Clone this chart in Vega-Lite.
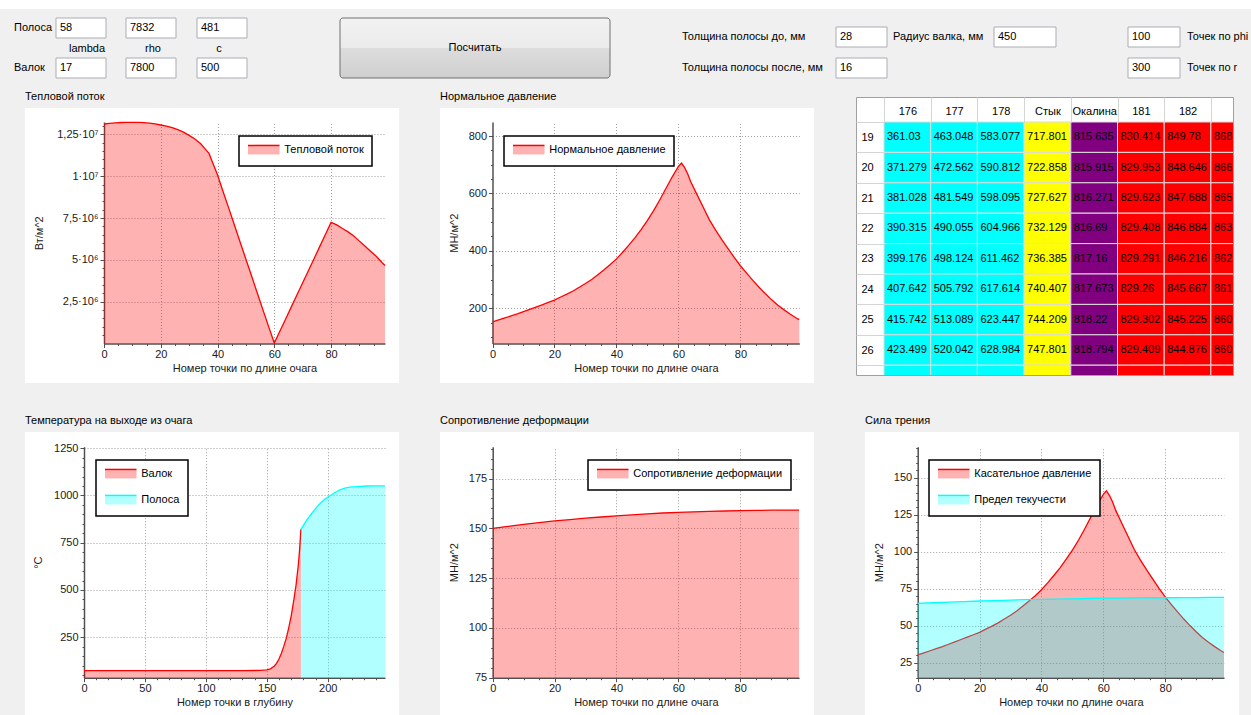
{
"$schema": "https://vega.github.io/schema/vega-lite/v6.json",
"background": "#f0f0f0",
"padding": 0,
"spacing": 0,
"bounds": "full",
"config": {
 "view": {"stroke": null},
 "font": "Liberation Sans",
 "concat": {"spacing": 0},
 "axis": {"labelFont": "Liberation Sans", "labelFontSize": 11, "labelColor": "#1a1a1a", "titleFont": "Liberation Sans", "titleFontSize": 11, "titleFontWeight": "normal", "titleColor": "#1a1a1a", "domainColor": "#505050", "domainWidth": 1.5, "tickColor": "#505050", "gridColor": "#a0a0a0", "gridDash": [1, 2], "labelFlush": false, "labelOverlap": false, "tickCount": 200},
 "legend": {"labelFont": "Liberation Sans"},
 "title": {"font": "Liberation Sans", "fontSize": 11, "fontWeight": "normal", "color": "black", "anchor": "start", "frame": "group", "offset": 6},
 "text": {"font": "Liberation Sans"}
},
"resolve": {"scale": {"color": "independent"}, "legend": {"color": "independent"}},
"datasets": {
 "form": [
  {"k": "strip", "x": 0, "x2": 1251, "y": 0, "y2": 9},
  {"k": "box", "x": 56, "x2": 106, "y": 18, "y2": 38, "t": "58"},
  {"k": "box", "x": 126, "x2": 176, "y": 18, "y2": 38, "t": "7832"},
  {"k": "box", "x": 197, "x2": 247, "y": 18, "y2": 38, "t": "481"},
  {"k": "box", "x": 56, "x2": 106, "y": 58, "y2": 78, "t": "17"},
  {"k": "box", "x": 126, "x2": 176, "y": 58, "y2": 78, "t": "7800"},
  {"k": "box", "x": 197, "x2": 247, "y": 58, "y2": 78, "t": "500"},
  {"k": "box", "x": 836, "x2": 887, "y": 27, "y2": 47, "t": "28"},
  {"k": "box", "x": 836, "x2": 887, "y": 58, "y2": 78, "t": "16"},
  {"k": "box", "x": 994, "x2": 1056, "y": 27, "y2": 47, "t": "450"},
  {"k": "box", "x": 1128, "x2": 1180, "y": 27, "y2": 47, "t": "100"},
  {"k": "box", "x": 1128, "x2": 1180, "y": 58, "y2": 78, "t": "300"},
  {"k": "button", "x": 340, "x2": 610, "y": 18, "y2": 78},
  {"k": "clabel", "x": 475, "y": 48, "t": "Посчитать"},
  {"k": "clabel", "x": 87, "y": 49, "t": "lambda"},
  {"k": "clabel", "x": 153, "y": 49, "t": "rho"},
  {"k": "clabel", "x": 219, "y": 49, "t": "c"},
  {"k": "label", "x": 14, "y": 28, "t": "Полоса"},
  {"k": "label", "x": 14, "y": 68, "t": "Валок"},
  {"k": "label", "x": 682, "y": 37, "t": "Толщина полосы до, мм"},
  {"k": "label", "x": 682, "y": 68, "t": "Толщина полосы после, мм"},
  {"k": "label", "x": 893, "y": 37, "t": "Радиус валка, мм"},
  {"k": "label", "x": 1187, "y": 37, "t": "Точек по phi"},
  {"k": "label", "x": 1187, "y": 68, "t": "Точек по r"}
 ],
 "heat": [
  {"x":0,"v":13120000,"s":"Тепловой поток"},{"x":2,"v":13160000,"s":"Тепловой поток"},{"x":4,"v":13190000,"s":"Тепловой поток"},{"x":6,"v":13210000,"s":"Тепловой поток"},{"x":8,"v":13220000,"s":"Тепловой поток"},{"x":10,"v":13222000,"s":"Тепловой поток"},{"x":12,"v":13215000,"s":"Тепловой поток"},{"x":14,"v":13200000,"s":"Тепловой поток"},{"x":16,"v":13170000,"s":"Тепловой поток"},{"x":18,"v":13130000,"s":"Тепловой поток"},{"x":20,"v":13060000,"s":"Тепловой поток"},{"x":22,"v":12990000,"s":"Тепловой поток"},{"x":24,"v":12900000,"s":"Тепловой поток"},{"x":26,"v":12780000,"s":"Тепловой поток"},{"x":28,"v":12630000,"s":"Тепловой поток"},{"x":30,"v":12440000,"s":"Тепловой поток"},{"x":32,"v":12220000,"s":"Тепловой поток"},{"x":34,"v":11950000,"s":"Тепловой поток"},{"x":36,"v":11560000,"s":"Тепловой поток"},{"x":37,"v":11360000,"s":"Тепловой поток"},{"x":38,"v":10930000,"s":"Тепловой поток"},{"x":39,"v":10500000,"s":"Тепловой поток"},{"x":40,"v":10070000,"s":"Тепловой поток"},{"x":42,"v":9060000,"s":"Тепловой поток"},{"x":44,"v":8060000,"s":"Тепловой поток"},{"x":46,"v":7050000,"s":"Тепловой поток"},{"x":48,"v":6040000,"s":"Тепловой поток"},{"x":50,"v":5040000,"s":"Тепловой поток"},{"x":52,"v":4030000,"s":"Тепловой поток"},{"x":54,"v":3020000,"s":"Тепловой поток"},{"x":56,"v":2010000,"s":"Тепловой поток"},{"x":58,"v":1010000,"s":"Тепловой поток"},{"x":60,"v":30000,"s":"Тепловой поток"},{"x":62,"v":750000,"s":"Тепловой поток"},{"x":64,"v":1470000,"s":"Тепловой поток"},{"x":66,"v":2190000,"s":"Тепловой поток"},{"x":68,"v":2910000,"s":"Тепловой поток"},{"x":70,"v":3630000,"s":"Тепловой поток"},{"x":72,"v":4350000,"s":"Тепловой поток"},{"x":74,"v":5070000,"s":"Тепловой поток"},{"x":76,"v":5790000,"s":"Тепловой поток"},{"x":78,"v":6510000,"s":"Тепловой поток"},{"x":80,"v":7240000,"s":"Тепловой поток"},{"x":82,"v":7090000,"s":"Тепловой поток"},{"x":84,"v":6870000,"s":"Тепловой поток"},{"x":86,"v":6670000,"s":"Тепловой поток"},{"x":88,"v":6430000,"s":"Тепловой поток"},{"x":90,"v":6120000,"s":"Тепловой поток"},{"x":92,"v":5810000,"s":"Тепловой поток"},{"x":94,"v":5500000,"s":"Тепловой поток"},{"x":96,"v":5200000,"s":"Тепловой поток"},{"x":98,"v":4830000,"s":"Тепловой поток"},{"x":99,"v":4660000,"s":"Тепловой поток"}
 ],
 "pn": [
  {"x":0,"v":152,"s":"Нормальное давление"},{"x":2,"v":159,"s":"Нормальное давление"},{"x":4,"v":166,"s":"Нормальное давление"},{"x":6,"v":173,"s":"Нормальное давление"},{"x":8,"v":180,"s":"Нормальное давление"},{"x":10,"v":188,"s":"Нормальное давление"},{"x":12,"v":196,"s":"Нормальное давление"},{"x":14,"v":204,"s":"Нормальное давление"},{"x":16,"v":212,"s":"Нормальное давление"},{"x":18,"v":220,"s":"Нормальное давление"},{"x":20,"v":228,"s":"Нормальное давление"},{"x":22,"v":239,"s":"Нормальное давление"},{"x":24,"v":249,"s":"Нормальное давление"},{"x":26,"v":260,"s":"Нормальное давление"},{"x":28,"v":273,"s":"Нормальное давление"},{"x":30,"v":286,"s":"Нормальное давление"},{"x":32,"v":300,"s":"Нормальное давление"},{"x":34,"v":317,"s":"Нормальное давление"},{"x":36,"v":334,"s":"Нормальное давление"},{"x":38,"v":352,"s":"Нормальное давление"},{"x":40,"v":372,"s":"Нормальное давление"},{"x":42,"v":395,"s":"Нормальное давление"},{"x":44,"v":420,"s":"Нормальное давление"},{"x":46,"v":446,"s":"Нормальное давление"},{"x":48,"v":475,"s":"Нормальное давление"},{"x":50,"v":506,"s":"Нормальное давление"},{"x":52,"v":540,"s":"Нормальное давление"},{"x":54,"v":578,"s":"Нормальное давление"},{"x":56,"v":618,"s":"Нормальное давление"},{"x":58,"v":658,"s":"Нормальное давление"},{"x":60,"v":694,"s":"Нормальное давление"},{"x":61,"v":706,"s":"Нормальное давление"},{"x":62,"v":690,"s":"Нормальное давление"},{"x":63,"v":668,"s":"Нормальное давление"},{"x":64,"v":640,"s":"Нормальное давление"},{"x":66,"v":596,"s":"Нормальное давление"},{"x":68,"v":552,"s":"Нормальное давление"},{"x":70,"v":508,"s":"Нормальное давление"},{"x":72,"v":472,"s":"Нормальное давление"},{"x":74,"v":439,"s":"Нормальное давление"},{"x":76,"v":408,"s":"Нормальное давление"},{"x":78,"v":377,"s":"Нормальное давление"},{"x":80,"v":348,"s":"Нормальное давление"},{"x":82,"v":322,"s":"Нормальное давление"},{"x":84,"v":297,"s":"Нормальное давление"},{"x":86,"v":273,"s":"Нормальное давление"},{"x":88,"v":251,"s":"Нормальное давление"},{"x":90,"v":230,"s":"Нормальное давление"},{"x":92,"v":211,"s":"Нормальное давление"},{"x":94,"v":195,"s":"Нормальное давление"},{"x":96,"v":180,"s":"Нормальное давление"},{"x":98,"v":166,"s":"Нормальное давление"},{"x":99,"v":160,"s":"Нормальное давление"}
 ],
 "temp": [
  {"x":0,"v":73,"s":"Валок"},{"x":20,"v":73,"s":"Валок"},{"x":40,"v":73,"s":"Валок"},{"x":60,"v":73,"s":"Валок"},{"x":80,"v":73,"s":"Валок"},{"x":100,"v":73,"s":"Валок"},{"x":120,"v":73,"s":"Валок"},{"x":130,"v":73.2,"s":"Валок"},{"x":140,"v":74,"s":"Валок"},{"x":145,"v":75,"s":"Валок"},{"x":150,"v":77,"s":"Валок"},{"x":153,"v":83,"s":"Валок"},{"x":156,"v":97,"s":"Валок"},{"x":158,"v":112,"s":"Валок"},{"x":160,"v":135,"s":"Валок"},{"x":162,"v":165,"s":"Валок"},{"x":164,"v":203,"s":"Валок"},{"x":166,"v":245,"s":"Валок"},{"x":168,"v":300,"s":"Валок"},{"x":170,"v":362,"s":"Валок"},{"x":172,"v":440,"s":"Валок"},{"x":174,"v":525,"s":"Валок"},{"x":176,"v":640,"s":"Валок"},{"x":177,"v":720,"s":"Валок"},{"x":178,"v":821,"s":"Валок"},
  {"x":178,"v":821,"s":"Полоса"},{"x":180,"v":842,"s":"Полоса"},{"x":183,"v":872,"s":"Полоса"},{"x":186,"v":898,"s":"Полоса"},{"x":189,"v":922,"s":"Полоса"},{"x":192,"v":946,"s":"Полоса"},{"x":195,"v":965,"s":"Полоса"},{"x":198,"v":982,"s":"Полоса"},{"x":200,"v":991,"s":"Полоса"},{"x":203,"v":1004,"s":"Полоса"},{"x":206,"v":1016,"s":"Полоса"},{"x":210,"v":1030,"s":"Полоса"},{"x":214,"v":1039,"s":"Полоса"},{"x":218,"v":1044,"s":"Полоса"},{"x":224,"v":1047,"s":"Полоса"},{"x":232,"v":1050,"s":"Полоса"},{"x":240,"v":1051,"s":"Полоса"},{"x":247,"v":1051,"s":"Полоса"}
 ],
 "sdef": [
  {"x":0,"v":150.0,"s":"Сопротивление деформации"},{"x":5,"v":151.0,"s":"Сопротивление деформации"},{"x":10,"v":152.0,"s":"Сопротивление деформации"},{"x":15,"v":152.9,"s":"Сопротивление деформации"},{"x":20,"v":153.7,"s":"Сопротивление деформации"},{"x":25,"v":154.4,"s":"Сопротивление деформации"},{"x":30,"v":155.1,"s":"Сопротивление деформации"},{"x":35,"v":155.7,"s":"Сопротивление деформации"},{"x":40,"v":156.3,"s":"Сопротивление деформации"},{"x":45,"v":156.8,"s":"Сопротивление деформации"},{"x":50,"v":157.3,"s":"Сопротивление деформации"},{"x":55,"v":157.7,"s":"Сопротивление деформации"},{"x":60,"v":158.0,"s":"Сопротивление деформации"},{"x":65,"v":158.3,"s":"Сопротивление деформации"},{"x":70,"v":158.5,"s":"Сопротивление деформации"},{"x":75,"v":158.7,"s":"Сопротивление деформации"},{"x":80,"v":158.9,"s":"Сопротивление деформации"},{"x":85,"v":159.0,"s":"Сопротивление деформации"},{"x":90,"v":159.1,"s":"Сопротивление деформации"},{"x":95,"v":159.2,"s":"Сопротивление деформации"},{"x":99,"v":159.2,"s":"Сопротивление деформации"}
 ],
 "fric": [
  {"x":0,"v":30.4,"s":"Касательное давление"},{"x":2,"v":31.8,"s":"Касательное давление"},{"x":4,"v":33.2,"s":"Касательное давление"},{"x":6,"v":34.6,"s":"Касательное давление"},{"x":8,"v":36,"s":"Касательное давление"},{"x":10,"v":37.6,"s":"Касательное давление"},{"x":12,"v":39.2,"s":"Касательное давление"},{"x":14,"v":40.8,"s":"Касательное давление"},{"x":16,"v":42.4,"s":"Касательное давление"},{"x":18,"v":44,"s":"Касательное давление"},{"x":20,"v":45.6,"s":"Касательное давление"},{"x":22,"v":47.8,"s":"Касательное давление"},{"x":24,"v":49.8,"s":"Касательное давление"},{"x":26,"v":52,"s":"Касательное давление"},{"x":28,"v":54.6,"s":"Касательное давление"},{"x":30,"v":57.2,"s":"Касательное давление"},{"x":32,"v":60,"s":"Касательное давление"},{"x":34,"v":63.4,"s":"Касательное давление"},{"x":36,"v":66.8,"s":"Касательное давление"},{"x":38,"v":70.4,"s":"Касательное давление"},{"x":40,"v":74.4,"s":"Касательное давление"},{"x":42,"v":79,"s":"Касательное давление"},{"x":44,"v":84,"s":"Касательное давление"},{"x":46,"v":89.2,"s":"Касательное давление"},{"x":48,"v":95,"s":"Касательное давление"},{"x":50,"v":101.2,"s":"Касательное давление"},{"x":52,"v":108,"s":"Касательное давление"},{"x":54,"v":115.6,"s":"Касательное давление"},{"x":56,"v":123.6,"s":"Касательное давление"},{"x":58,"v":131.6,"s":"Касательное давление"},{"x":60,"v":138.8,"s":"Касательное давление"},{"x":61,"v":141.2,"s":"Касательное давление"},{"x":62,"v":138,"s":"Касательное давление"},{"x":63,"v":133.6,"s":"Касательное давление"},{"x":64,"v":128,"s":"Касательное давление"},{"x":66,"v":119.2,"s":"Касательное давление"},{"x":68,"v":110.4,"s":"Касательное давление"},{"x":70,"v":101.6,"s":"Касательное давление"},{"x":72,"v":94.4,"s":"Касательное давление"},{"x":74,"v":87.8,"s":"Касательное давление"},{"x":76,"v":81.6,"s":"Касательное давление"},{"x":78,"v":75.4,"s":"Касательное давление"},{"x":80,"v":69.6,"s":"Касательное давление"},{"x":82,"v":64.4,"s":"Касательное давление"},{"x":84,"v":59.4,"s":"Касательное давление"},{"x":86,"v":54.6,"s":"Касательное давление"},{"x":88,"v":50.2,"s":"Касательное давление"},{"x":90,"v":46,"s":"Касательное давление"},{"x":92,"v":42.2,"s":"Касательное давление"},{"x":94,"v":39,"s":"Касательное давление"},{"x":96,"v":36,"s":"Касательное давление"},{"x":98,"v":33.2,"s":"Касательное давление"},{"x":99,"v":32,"s":"Касательное давление"},
  {"x":0,"v":65.2,"s":"Предел текучести"},{"x":5,"v":65.6,"s":"Предел текучести"},{"x":10,"v":66.0,"s":"Предел текучести"},{"x":15,"v":66.4,"s":"Предел текучести"},{"x":20,"v":66.8,"s":"Предел текучести"},{"x":25,"v":67.1,"s":"Предел текучести"},{"x":30,"v":67.4,"s":"Предел текучести"},{"x":35,"v":67.7,"s":"Предел текучести"},{"x":40,"v":67.9,"s":"Предел текучести"},{"x":45,"v":68.1,"s":"Предел текучести"},{"x":50,"v":68.3,"s":"Предел текучести"},{"x":55,"v":68.5,"s":"Предел текучести"},{"x":60,"v":68.7,"s":"Предел текучести"},{"x":65,"v":68.8,"s":"Предел текучести"},{"x":70,"v":68.9,"s":"Предел текучести"},{"x":75,"v":69.0,"s":"Предел текучести"},{"x":80,"v":69.0,"s":"Предел текучести"},{"x":85,"v":69.1,"s":"Предел текучести"},{"x":90,"v":69.1,"s":"Предел текучести"},{"x":95,"v":69.2,"s":"Предел текучести"},{"x":99,"v":69.2,"s":"Предел текучести"}
 ],
 "table": [
  {"r":19,"c":"176","z":"Полоса","v":361.03},{"r":19,"c":"177","z":"Полоса","v":463.048},{"r":19,"c":"178","z":"Полоса","v":583.077},{"r":19,"c":"Стык","z":"Стык","v":717.801},{"r":19,"c":"Окалина","z":"Окалина","v":815.635},{"r":19,"c":"181","z":"Валок","v":830.414},{"r":19,"c":"182","z":"Валок","v":849.78},{"r":19,"c":"183","z":"Валок","v":868.152},
  {"r":20,"c":"176","z":"Полоса","v":371.279},{"r":20,"c":"177","z":"Полоса","v":472.562},{"r":20,"c":"178","z":"Полоса","v":590.812},{"r":20,"c":"Стык","z":"Стык","v":722.858},{"r":20,"c":"Окалина","z":"Окалина","v":815.915},{"r":20,"c":"181","z":"Валок","v":829.953},{"r":20,"c":"182","z":"Валок","v":848.646},{"r":20,"c":"183","z":"Валок","v":866.531},
  {"r":21,"c":"176","z":"Полоса","v":381.028},{"r":21,"c":"177","z":"Полоса","v":481.549},{"r":21,"c":"178","z":"Полоса","v":598.095},{"r":21,"c":"Стык","z":"Стык","v":727.627},{"r":21,"c":"Окалина","z":"Окалина","v":816.271},{"r":21,"c":"181","z":"Валок","v":829.623},{"r":21,"c":"182","z":"Валок","v":847.688},{"r":21,"c":"183","z":"Валок","v":865.058},
  {"r":22,"c":"176","z":"Полоса","v":390.315},{"r":22,"c":"177","z":"Полоса","v":490.055},{"r":22,"c":"178","z":"Полоса","v":604.966},{"r":22,"c":"Стык","z":"Стык","v":732.129},{"r":22,"c":"Окалина","z":"Окалина","v":816.69},{"r":22,"c":"181","z":"Валок","v":829.408},{"r":22,"c":"182","z":"Валок","v":846.884},{"r":22,"c":"183","z":"Валок","v":863.741},
  {"r":23,"c":"176","z":"Полоса","v":399.176},{"r":23,"c":"177","z":"Полоса","v":498.124},{"r":23,"c":"178","z":"Полоса","v":611.462},{"r":23,"c":"Стык","z":"Стык","v":736.385},{"r":23,"c":"Окалина","z":"Окалина","v":817.16},{"r":23,"c":"181","z":"Валок","v":829.291},{"r":23,"c":"182","z":"Валок","v":846.216},{"r":23,"c":"183","z":"Валок","v":862.567},
  {"r":24,"c":"176","z":"Полоса","v":407.642},{"r":24,"c":"177","z":"Полоса","v":505.792},{"r":24,"c":"178","z":"Полоса","v":617.614},{"r":24,"c":"Стык","z":"Стык","v":740.407},{"r":24,"c":"Окалина","z":"Окалина","v":817.673},{"r":24,"c":"181","z":"Валок","v":829.26},{"r":24,"c":"182","z":"Валок","v":845.667},{"r":24,"c":"183","z":"Валок","v":861.523},
  {"r":25,"c":"176","z":"Полоса","v":415.742},{"r":25,"c":"177","z":"Полоса","v":513.089},{"r":25,"c":"178","z":"Полоса","v":623.447},{"r":25,"c":"Стык","z":"Стык","v":744.209},{"r":25,"c":"Окалина","z":"Окалина","v":818.22},{"r":25,"c":"181","z":"Валок","v":829.302},{"r":25,"c":"182","z":"Валок","v":845.225},{"r":25,"c":"183","z":"Валок","v":860.597},
  {"r":26,"c":"176","z":"Полоса","v":423.499},{"r":26,"c":"177","z":"Полоса","v":520.042},{"r":26,"c":"178","z":"Полоса","v":628.984},{"r":26,"c":"Стык","z":"Стык","v":747.801},{"r":26,"c":"Окалина","z":"Окалина","v":818.794},{"r":26,"c":"181","z":"Валок","v":829.409},{"r":26,"c":"182","z":"Валок","v":844.876},{"r":26,"c":"183","z":"Валок","v":860.08},
  {"r":27,"c":"176","z":"Полоса","v":null},{"r":27,"c":"177","z":"Полоса","v":null},{"r":27,"c":"178","z":"Полоса","v":null},{"r":27,"c":"Стык","z":"Стык","v":null},{"r":27,"c":"Окалина","z":"Окалина","v":null},{"r":27,"c":"181","z":"Валок","v":null},{"r":27,"c":"182","z":"Валок","v":null},{"r":27,"c":"183","z":"Валок","v":null}
 ]
},
"vconcat": [
 {
  "width": 1251, "height": 87,
  "data": {"name": "form"},
  "layer": [
   {"transform": [{"filter": "datum.k == 'strip'"}], "mark": {"type": "rect", "fill": "white"},
    "encoding": {"x": {"field": "x", "type": "quantitative", "scale": {"domain": [0, 1251], "range": [0, 1251], "nice": false, "zero": false}, "axis": null}, "x2": {"field": "x2"},
                 "y": {"field": "y", "type": "quantitative", "scale": {"domain": [0, 97], "range": [0, 97], "nice": false, "zero": false}, "axis": null}, "y2": {"field": "y2"}}},
   {"transform": [{"filter": "datum.k == 'box'"}], "mark": {"type": "rect", "fill": "white", "stroke": "#abadb3", "strokeWidth": 1},
    "encoding": {"x": {"field": "x", "type": "quantitative"}, "x2": {"field": "x2"}, "y": {"field": "y", "type": "quantitative"}, "y2": {"field": "y2"}}},
   {"transform": [{"filter": "datum.k == 'button'"}], "mark": {"type": "rect", "stroke": "#707070", "strokeWidth": 1, "cornerRadius": 3, "fill": {"gradient": "linear", "x1": 0, "y1": 0, "x2": 0, "y2": 1, "stops": [{"offset": 0, "color": "#f2f2f2"}, {"offset": 0.5, "color": "#ebebeb"}, {"offset": 0.5, "color": "#dddddd"}, {"offset": 1, "color": "#cfcfcf"}]}},
    "encoding": {"x": {"field": "x", "type": "quantitative"}, "x2": {"field": "x2"}, "y": {"field": "y", "type": "quantitative"}, "y2": {"field": "y2"}}},
   {"transform": [{"filter": "datum.k == 'box'"}], "mark": {"type": "text", "align": "left", "baseline": "top", "dx": 4, "dy": 4, "fontSize": 11, "color": "black"},
    "encoding": {"x": {"field": "x", "type": "quantitative"}, "y": {"field": "y", "type": "quantitative"}, "text": {"field": "t"}}},
   {"transform": [{"filter": "datum.k == 'label'"}], "mark": {"type": "text", "align": "left", "baseline": "middle", "fontSize": 11, "color": "black"},
    "encoding": {"x": {"field": "x", "type": "quantitative"}, "y": {"field": "y", "type": "quantitative"}, "text": {"field": "t"}}},
   {"transform": [{"filter": "datum.k == 'clabel'"}], "mark": {"type": "text", "align": "center", "baseline": "middle", "fontSize": 11, "color": "black"},
    "encoding": {"x": {"field": "x", "type": "quantitative"}, "y": {"field": "y", "type": "quantitative"}, "text": {"field": "t"}}}
  ]
 },
 {
  "spacing": 0, "bounds": "full",
  "resolve": {"scale": {"color": "independent"}, "legend": {"color": "independent"}},
  "hconcat": [
   {"width": 25, "height": 1, "data": {"values": []}, "mark": "point"},
   {"spacing": 0, "bounds": "flush", "resolve": {"scale": {"color": "independent"}, "legend": {"color": "independent"}},
    "vconcat": [
     {"width": 1, "height": 21, "data": {"values": []}, "mark": "point"},
     {
      "width": 374, "height": 275,
      "view": {"fill": "white"},
      "title": {"text": "Тепловой поток"},
      "data": {"name": "heat"},
      "layer": [
       {"mark": {"type": "area", "opacity": 0.3},
        "encoding": {
         "x": {"field": "x", "type": "quantitative", "scale": {"domain": [0, 99], "range": [79, 360], "nice": false, "zero": false},
               "axis": {"orient": "bottom", "offset": -39.5, "tickCount": 200, "format": "d", "values": [0,5,10,15,20,25,30,35,40,45,50,55,60,65,70,75,80,85,90,95], "labelExpr": "datum.value % 20 == 0 ? datum.label : ''", "tickSize": {"condition": {"test": "datum.value % 20 == 0", "value": 4}, "value": 2}, "labelPadding": 1, "labelOverlap": false, "grid": false, "title": "Номер точки  по длине очага", "titlePadding": 3}},
         "y": {"field": "v", "type": "quantitative", "stack": null, "scale": {"domain": [0, 13240000], "range": [235.5, 14], "nice": false, "zero": false},
               "axis": {"orient": "left", "offset": -79, "tickCount": 200, "values": [500000,1000000,1500000,2000000,2500000,3000000,3500000,4000000,4500000,5000000,5500000,6000000,6500000,7000000,7500000,8000000,8500000,9000000,9500000,10000000,10500000,11000000,11500000,12000000,12500000,13000000], "labelExpr": "datum.value == 12500000 ? '1,25·10⁷' : datum.value == 10000000 ? '1·10⁷' : datum.value == 7500000 ? '7,5·10⁶' : datum.value == 5000000 ? '5·10⁶' : datum.value == 2500000 ? '2,5·10⁶' : ''", "tickSize": {"condition": {"test": "datum.value % 2500000 == 0", "value": 4}, "value": 2}, "labelPadding": 2, "labelOverlap": false, "grid": true, "gridOpacity": {"condition": {"test": "datum.value % 2500000 == 0", "value": 1}, "value": 0}, "title": "Вт/м^2", "titlePadding": 12}},
         "y2": {"datum": 0},
         "color": {"field": "s", "type": "nominal", "scale": {"domain": ["Тепловой поток"], "range": ["#ff0000"]},
                   "legend": {"orient": "none", "legendX": 214, "legendY": 28, "title": null, "fillColor": "white", "strokeColor": "black", "padding": 8, "symbolType": "M-3.5,-0.9H3.5V1.1H-3.5Z", "symbolSize": 81, "symbolOffset": 11.25, "labelOffset": 15, "rowPadding": 10, "labelFontSize": 11, "labelColor": "black", "labelLimit": 300, "symbolStrokeColor": "#ff0000", "symbolStrokeWidth": 1.5, "symbolDash": [31.5, 80], "symbolOpacity": 1,
                              "encode": {"legend": {"update": {"strokeWidth": {"value": 1.5}}}, "symbols": {"update": {"fill": {"value": "#ff0000"}, "fillOpacity": {"value": 0.3}, "stroke": {"value": "#ff0000"}, "strokeOpacity": {"value": 1}, "opacity": {"value": 1}}}}}}
        }},
       {"mark": {"type": "line", "strokeWidth": 1.3},
        "encoding": {
         "x": {"field": "x", "type": "quantitative", "axis": {"orient": "top", "offset": -14, "values": [20,40,60,80], "grid": true, "domain": false, "ticks": false, "labels": false, "title": null}},
         "y": {"field": "v", "type": "quantitative"},
         "color": {"field": "s", "type": "nominal"}
        }}
      ],
      "resolve": {"axis": {"x": "independent"}}
     }
    ]},
   {"width": 41, "height": 1, "data": {"values": []}, "mark": "point"},
   {"spacing": 0, "bounds": "flush", "resolve": {"scale": {"color": "independent"}, "legend": {"color": "independent"}},
    "vconcat": [
     {"width": 1, "height": 21, "data": {"values": []}, "mark": "point"},
     {
      "width": 374, "height": 275,
      "view": {"fill": "white"},
      "title": {"text": "Нормальное давление"},
      "data": {"name": "pn"},
      "layer": [
       {"mark": {"type": "area", "opacity": 0.3},
        "encoding": {
         "x": {"field": "x", "type": "quantitative", "scale": {"domain": [0, 99], "range": [52.5, 359.3], "nice": false, "zero": false},
               "axis": {"orient": "bottom", "offset": -39.5, "tickCount": 200, "format": "d", "values": [0,5,10,15,20,25,30,35,40,45,50,55,60,65,70,75,80,85,90,95], "labelExpr": "datum.value % 20 == 0 ? datum.label : ''", "tickSize": {"condition": {"test": "datum.value % 20 == 0", "value": 4}, "value": 2}, "labelPadding": 1, "labelOverlap": false, "grid": false, "title": "Номер точки  по длине очага", "titlePadding": 3}},
         "y": {"field": "v", "type": "quantitative", "stack": null, "scale": {"domain": [77, 849], "range": [235.5, 14], "nice": false, "zero": false},
               "axis": {"orient": "left", "offset": -52.5, "tickCount": 200, "format": "d", "values": [100,150,200,250,300,350,400,450,500,550,600,650,700,750,800], "labelExpr": "datum.value % 200 == 0 ? datum.label : ''", "tickSize": {"condition": {"test": "datum.value % 200 == 0", "value": 4}, "value": 2}, "labelPadding": 2, "labelOverlap": false, "grid": true, "gridOpacity": {"condition": {"test": "datum.value % 200 == 0", "value": 1}, "value": 0}, "title": "МН/м^2", "titlePadding": 9}},
         "y2": {"datum": 77},
         "color": {"field": "s", "type": "nominal", "scale": {"domain": ["Нормальное давление"], "range": ["#ff0000"]},
                   "legend": {"orient": "none", "legendX": 64, "legendY": 28, "title": null, "fillColor": "white", "strokeColor": "black", "padding": 8, "symbolType": "M-3.5,-0.9H3.5V1.1H-3.5Z", "symbolSize": 81, "symbolOffset": 11.25, "labelOffset": 15, "rowPadding": 10, "labelFontSize": 11, "labelColor": "black", "labelLimit": 300, "symbolStrokeColor": "#ff0000", "symbolStrokeWidth": 1.5, "symbolDash": [31.5, 80], "symbolOpacity": 1,
                              "encode": {"legend": {"update": {"strokeWidth": {"value": 1.5}}}, "symbols": {"update": {"fill": {"value": "#ff0000"}, "fillOpacity": {"value": 0.3}, "stroke": {"value": "#ff0000"}, "strokeOpacity": {"value": 1}, "opacity": {"value": 1}}}}}}
        }},
       {"mark": {"type": "line", "strokeWidth": 1.3},
        "encoding": {
         "x": {"field": "x", "type": "quantitative", "axis": {"orient": "top", "offset": -14, "values": [20,40,60,80], "grid": true, "domain": false, "ticks": false, "labels": false, "title": null}},
         "y": {"field": "v", "type": "quantitative"},
         "color": {"field": "s", "type": "nominal"}
        }}
      ],
      "resolve": {"axis": {"x": "independent"}}
     }
    ]},
   {"width": 41, "height": 1, "data": {"values": []}, "mark": "point"},
   {"spacing": 0, "bounds": "flush", "resolve": {"scale": {"color": "independent"}, "legend": {"color": "independent"}},
    "vconcat": [
     {"width": 1, "height": 10, "data": {"values": []}, "mark": "point"},
     {
      "width": 377, "height": 278,
      "view": {"fill": "white", "stroke": "#a0a0a0"},
      "data": {"name": "table"},
      "layer": [
       {"mark": {"type": "rect", "stroke": "#dcdcdc", "strokeWidth": 1, "clip": true},
        "encoding": {
         "x": {"field": "c", "type": "ordinal", "sort": null, "scale": {"domain": ["176","177","178","Стык","Окалина","181","182","183"], "range": [28, 401.6], "paddingInner": 0, "paddingOuter": 0},
               "axis": {"orient": "top", "offset": -25, "values": ["176","177","178","Стык","Окалина","181","182"], "domain": false, "tickBand": "extent", "tickSize": 25, "tickColor": "#d5d5d5", "tickWidth": 1, "labelPadding": -19, "labelAngle": 0, "labelColor": "black", "labelFontSize": 11, "title": null, "grid": false}},
         "y": {"field": "r", "type": "ordinal", "sort": null, "scale": {"domain": [19,20,21,22,23,24,25,26,27], "range": [25, 298.6], "paddingInner": 0, "paddingOuter": 0},
               "axis": {"orient": "left", "offset": -28, "values": [19,20,21,22,23,24,25,26], "domain": false, "tickBand": "extent", "tickSize": 28, "tickColor": "#d5d5d5", "tickWidth": 1, "labelAlign": "left", "labelBaseline": "middle", "labelPadding": -5, "labelColor": "black", "labelFontSize": 11, "title": null, "grid": false}},
         "color": {"field": "z", "type": "nominal", "scale": {"domain": ["Полоса","Стык","Окалина","Валок"], "range": ["#00ffff","#ffff00","#800080","#ff0000"]}, "legend": null}
        }},
       {"transform": [{"filter": "datum.v != null"}],
        "mark": {"type": "text", "align": "left", "baseline": "middle", "dx": 3, "fontSize": 11, "color": "black", "clip": true},
        "encoding": {
         "x": {"field": "c", "type": "ordinal", "bandPosition": 0},
         "y": {"field": "r", "type": "ordinal"},
         "text": {"field": "v", "type": "nominal"}
        }}
      ]
     }
    ]}
  ]
 },
 {"width": 1, "height": 32, "data": {"values": []}, "mark": "point"},
 {
  "spacing": 0, "bounds": "flush",
  "resolve": {"scale": {"color": "independent"}, "legend": {"color": "independent"}},
  "hconcat": [
   {"width": 25, "height": 1, "data": {"values": []}, "mark": "point"},
   {
    "width": 374, "height": 290,
    "view": {"fill": "white"},
    "title": {"text": "Температура на выходе из очага"},
    "data": {"name": "temp"},
    "layer": [
     {"transform": [{"filter": "datum.s == 'Валок'"}], "mark": {"type": "area", "opacity": 0.3},
      "encoding": {
       "x": {"field": "x", "type": "quantitative", "scale": {"domain": [0, 247], "range": [59, 360], "nice": false, "zero": false},
             "axis": {"orient": "bottom", "offset": -44.3, "tickCount": 200, "format": "d", "values": [0,10,20,30,40,50,60,70,80,90,100,110,120,130,140,150,160,170,180,190,200,210,220,230,240], "labelExpr": "datum.value % 50 == 0 ? datum.label : ''", "tickSize": {"condition": {"test": "datum.value % 50 == 0", "value": 4}, "value": 2}, "labelPadding": 1, "labelOverlap": false, "grid": false, "title": "Номер точки в глубину", "titlePadding": 3}},
       "y": {"field": "v", "type": "quantitative", "stack": null, "scale": {"domain": [36, 1258], "range": [245.7, 14.7], "nice": false, "zero": false},
             "axis": {"orient": "left", "offset": -59, "tickCount": 200, "format": "d", "values": [50,100,150,200,250,300,350,400,450,500,550,600,650,700,750,800,850,900,950,1000,1050,1100,1150,1200,1250], "labelExpr": "datum.value % 250 == 0 ? datum.label : ''", "tickSize": {"condition": {"test": "datum.value % 250 == 0", "value": 4}, "value": 2}, "labelPadding": 2, "labelOverlap": false, "grid": true, "gridOpacity": {"condition": {"test": "datum.value % 250 == 0", "value": 1}, "value": 0}, "title": "°C", "titlePadding": 10}},
       "y2": {"datum": 36},
       "color": {"field": "s", "type": "nominal", "scale": {"domain": ["Валок", "Полоса"], "range": ["#ff0000", "#00ffff"]},
                 "legend": {"orient": "none", "legendX": 71, "legendY": 28, "title": null, "fillColor": "white", "strokeColor": "black", "padding": 8, "symbolType": "M-3.5,-0.9H3.5V1.1H-3.5Z", "symbolSize": 81, "symbolOffset": 11.25, "labelOffset": 15, "rowPadding": 10, "labelFontSize": 11, "labelColor": "black", "labelLimit": 300, "symbolStrokeWidth": 1.5, "symbolDash": [31.5, 80], "symbolOpacity": 1,
                            "encode": {"legend": {"update": {"strokeWidth": {"value": 1.5}}}, "symbols": {"update": {"fill": {"signal": "datum.value == 'Полоса' ? '#00ffff' : '#ff0000'"}, "fillOpacity": {"value": 0.3}, "stroke": {"signal": "datum.value == 'Полоса' ? '#00ffff' : '#ff0000'"}, "strokeOpacity": {"value": 1}, "opacity": {"value": 1}}}}}}
      }},
     {"transform": [{"filter": "datum.s == 'Валок'"}], "mark": {"type": "line", "strokeWidth": 1.3},
      "encoding": {
       "x": {"field": "x", "type": "quantitative", "axis": {"orient": "top", "offset": -14.7, "values": [50,100,150,200], "grid": true, "domain": false, "ticks": false, "labels": false, "title": null}},
       "y": {"field": "v", "type": "quantitative"},
       "color": {"field": "s", "type": "nominal"}
      }},
     {"transform": [{"filter": "datum.s == 'Полоса'"}], "mark": {"type": "area", "opacity": 0.3},
      "encoding": {
       "x": {"field": "x", "type": "quantitative", "axis": null},
       "y": {"field": "v", "type": "quantitative", "stack": null},
       "y2": {"datum": 36},
       "color": {"field": "s", "type": "nominal"}
      }},
     {"transform": [{"filter": "datum.s == 'Полоса'"}], "mark": {"type": "line", "strokeWidth": 1.3},
      "encoding": {
       "x": {"field": "x", "type": "quantitative", "axis": null},
       "y": {"field": "v", "type": "quantitative"},
       "color": {"field": "s", "type": "nominal"}
      }}
    ],
    "resolve": {"axis": {"x": "independent"}}
   },
   {"width": 41, "height": 1, "data": {"values": []}, "mark": "point"},
   {
    "width": 374, "height": 290,
    "view": {"fill": "white"},
    "title": {"text": "Сопротивление деформации"},
    "data": {"name": "sdef"},
    "layer": [
     {"mark": {"type": "area", "opacity": 0.3},
      "encoding": {
       "x": {"field": "x", "type": "quantitative", "scale": {"domain": [0, 99], "range": [52.7, 359], "nice": false, "zero": false},
             "axis": {"orient": "bottom", "offset": -44.3, "tickCount": 200, "format": "d", "values": [0,5,10,15,20,25,30,35,40,45,50,55,60,65,70,75,80,85,90,95], "labelExpr": "datum.value % 20 == 0 ? datum.label : ''", "tickSize": {"condition": {"test": "datum.value % 20 == 0", "value": 4}, "value": 2}, "labelPadding": 1, "labelOverlap": false, "grid": false, "title": "Номер точки  по длине очага", "titlePadding": 3}},
       "y": {"field": "v", "type": "quantitative", "stack": null, "scale": {"domain": [75, 191], "range": [245.7, 14.7], "nice": false, "zero": false},
             "axis": {"orient": "left", "offset": -52.7, "tickCount": 200, "format": "d", "values": [75,80,85,90,95,100,105,110,115,120,125,130,135,140,145,150,155,160,165,170,175,180,185,190], "labelExpr": "datum.value % 25 == 0 ? datum.label : ''", "tickSize": {"condition": {"test": "datum.value % 25 == 0", "value": 4}, "value": 2}, "labelPadding": 2, "labelOverlap": false, "grid": true, "gridOpacity": {"condition": {"test": "datum.value % 25 == 0", "value": 1}, "value": 0}, "title": "МН/м^2", "titlePadding": 9}},
       "y2": {"datum": 75},
       "color": {"field": "s", "type": "nominal", "scale": {"domain": ["Сопротивление деформации"], "range": ["#ff0000"]},
                 "legend": {"orient": "none", "legendX": 148, "legendY": 28, "title": null, "fillColor": "white", "strokeColor": "black", "padding": 8, "symbolType": "M-3.5,-0.9H3.5V1.1H-3.5Z", "symbolSize": 81, "symbolOffset": 11.25, "labelOffset": 15, "rowPadding": 10, "labelFontSize": 11, "labelColor": "black", "labelLimit": 300, "symbolStrokeColor": "#ff0000", "symbolStrokeWidth": 1.5, "symbolDash": [31.5, 80], "symbolOpacity": 1,
                            "encode": {"legend": {"update": {"strokeWidth": {"value": 1.5}}}, "symbols": {"update": {"fill": {"value": "#ff0000"}, "fillOpacity": {"value": 0.3}, "stroke": {"value": "#ff0000"}, "strokeOpacity": {"value": 1}, "opacity": {"value": 1}}}}}}
      }},
     {"mark": {"type": "line", "strokeWidth": 1.3},
      "encoding": {
       "x": {"field": "x", "type": "quantitative", "axis": {"orient": "top", "offset": -14.7, "values": [20,40,60,80], "grid": true, "domain": false, "ticks": false, "labels": false, "title": null}},
       "y": {"field": "v", "type": "quantitative"},
       "color": {"field": "s", "type": "nominal"}
      }}
    ],
    "resolve": {"axis": {"x": "independent"}}
   },
   {"width": 51, "height": 1, "data": {"values": []}, "mark": "point"},
   {
    "width": 374, "height": 290,
    "view": {"fill": "white"},
    "title": {"text": "Сила трения"},
    "data": {"name": "fric"},
    "layer": [
     {"transform": [{"filter": "datum.s == 'Касательное давление'"}], "mark": {"type": "area", "opacity": 0.3},
      "encoding": {
       "x": {"field": "x", "type": "quantitative", "scale": {"domain": [0, 99], "range": [52.7, 359], "nice": false, "zero": false},
             "axis": {"orient": "bottom", "offset": -44.3, "tickCount": 200, "format": "d", "values": [0,5,10,15,20,25,30,35,40,45,50,55,60,65,70,75,80,85,90,95], "labelExpr": "datum.value % 20 == 0 ? datum.label : ''", "tickSize": {"condition": {"test": "datum.value % 20 == 0", "value": 4}, "value": 2}, "labelPadding": 1, "labelOverlap": false, "grid": false, "title": "Номер точки  по длине очага", "titlePadding": 3}},
       "y": {"field": "v", "type": "quantitative", "stack": null, "scale": {"domain": [15, 171], "range": [245.7, 14.7], "nice": false, "zero": false},
             "axis": {"orient": "left", "offset": -52.7, "tickCount": 200, "format": "d", "values": [15,20,25,30,35,40,45,50,55,60,65,70,75,80,85,90,95,100,105,110,115,120,125,130,135,140,145,150,155,160,165,170], "labelExpr": "datum.value % 25 == 0 ? datum.label : ''", "tickSize": {"condition": {"test": "datum.value % 25 == 0", "value": 4}, "value": 2}, "labelPadding": 2, "labelOverlap": false, "grid": true, "gridOpacity": {"condition": {"test": "datum.value % 25 == 0", "value": 1}, "value": 0}, "title": "МН/м^2", "titlePadding": 9}},
       "y2": {"datum": 15},
       "color": {"field": "s", "type": "nominal", "scale": {"domain": ["Касательное давление", "Предел текучести"], "range": ["#ff0000", "#00ffff"]},
                 "legend": {"orient": "none", "legendX": 64, "legendY": 28, "title": null, "fillColor": "white", "strokeColor": "black", "padding": 8, "symbolType": "M-3.5,-0.9H3.5V1.1H-3.5Z", "symbolSize": 81, "symbolOffset": 11.25, "labelOffset": 15, "rowPadding": 10, "labelFontSize": 11, "labelColor": "black", "labelLimit": 300, "symbolStrokeWidth": 1.5, "symbolDash": [31.5, 80], "symbolOpacity": 1,
                            "encode": {"legend": {"update": {"strokeWidth": {"value": 1.5}}}, "symbols": {"update": {"fill": {"signal": "datum.value == 'Предел текучести' ? '#00ffff' : '#ff0000'"}, "fillOpacity": {"value": 0.3}, "stroke": {"signal": "datum.value == 'Предел текучести' ? '#00ffff' : '#ff0000'"}, "strokeOpacity": {"value": 1}, "opacity": {"value": 1}}}}}}
      }},
     {"transform": [{"filter": "datum.s == 'Касательное давление'"}], "mark": {"type": "line", "strokeWidth": 1.3},
      "encoding": {
       "x": {"field": "x", "type": "quantitative", "axis": {"orient": "top", "offset": -14.7, "values": [20,40,60,80], "grid": true, "domain": false, "ticks": false, "labels": false, "title": null}},
       "y": {"field": "v", "type": "quantitative"},
       "color": {"field": "s", "type": "nominal"}
      }},
     {"transform": [{"filter": "datum.s == 'Предел текучести'"}], "mark": {"type": "area", "opacity": 0.3},
      "encoding": {
       "x": {"field": "x", "type": "quantitative", "axis": null},
       "y": {"field": "v", "type": "quantitative", "stack": null},
       "y2": {"datum": 15},
       "color": {"field": "s", "type": "nominal"}
      }},
     {"transform": [{"filter": "datum.s == 'Предел текучести'"}], "mark": {"type": "line", "strokeWidth": 1.3},
      "encoding": {
       "x": {"field": "x", "type": "quantitative", "axis": null},
       "y": {"field": "v", "type": "quantitative"},
       "color": {"field": "s", "type": "nominal"}
      }}
    ],
    "resolve": {"axis": {"x": "independent"}}
   }
  ]
 }
]
}
